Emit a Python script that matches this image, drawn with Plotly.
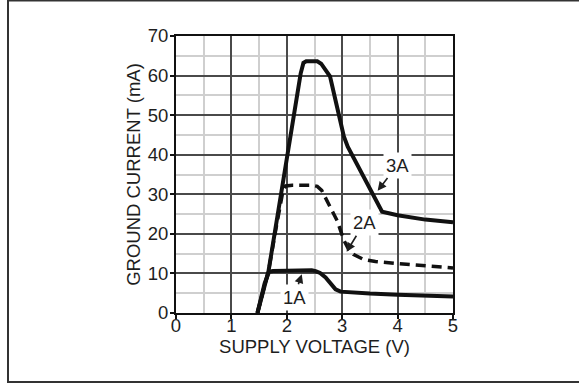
import plotly.graph_objects as go

# Ground current vs. supply voltage for three load currents
v_3a = [1.47, 1.55, 1.60, 1.67, 2.25, 2.30, 2.35, 2.55, 2.62, 2.70, 2.78, 2.90, 3.03, 3.10, 3.72, 4.00, 4.50, 5.00]
i_3a = [0.0, 4.5, 7.5, 10.6, 60.5, 63.2, 63.6, 63.6, 63.0, 61.6, 59.8, 52.5, 44.6, 42.0, 25.6, 24.7, 23.6, 22.9]

v_2a = [1.47, 1.55, 1.60, 1.67, 1.80, 1.88, 1.93, 1.98, 2.10, 2.45, 2.55, 2.63, 2.70, 2.84, 2.91, 3.03, 3.12, 3.20, 3.39, 3.60, 4.00, 4.50, 5.00]
i_2a = [0.0, 4.5, 7.5, 10.6, 21.0, 27.5, 30.8, 32.1, 32.3, 32.3, 32.0, 31.0, 29.2, 25.2, 23.3, 18.4, 16.0, 14.8, 13.5, 13.0, 12.5, 12.0, 11.4]

v_1a = [1.47, 1.55, 1.60, 1.68, 1.75, 2.00, 2.30, 2.45, 2.52, 2.60, 2.70, 2.80, 2.88, 2.97, 3.20, 3.50, 4.00, 4.50, 5.00]
i_1a = [0.0, 4.5, 7.5, 10.4, 10.6, 10.7, 10.8, 10.8, 10.6, 10.1, 9.0, 7.3, 6.0, 5.4, 5.1, 4.9, 4.6, 4.4, 4.2]

# Curve labels: (text, text position V, text position mA, arrow tip V, arrow tip mA)
labels = [
    ("3A", 4.00, 37.4, 3.64, 30.9),
    ("2A", 3.40, 22.8, 3.08, 15.5),
    ("1A", 2.13, 4.0, 2.27, 9.8),
]

x_ticks = [0, 1, 2, 3, 4, 5]
y_ticks = [0, 10, 20, 30, 40, 50, 60, 70]

FONT = "Liberation Sans, Arial, sans-serif"
INK = "#1e1e1e"
FS = 18.5

fig = go.Figure()
fig.add_trace(go.Scatter(x=v_3a, y=i_3a, mode="lines",
                         line=dict(color="#111", width=4), hoverinfo="skip"))
fig.add_trace(go.Scatter(x=v_2a, y=i_2a, mode="lines",
                         line=dict(color="#111", width=3.5, dash="10px,6px"), hoverinfo="skip"))
fig.add_trace(go.Scatter(x=v_1a, y=i_1a, mode="lines",
                         line=dict(color="#111", width=4), hoverinfo="skip"))

for text, tx, ty, hx, hy in labels:
    fig.add_annotation(x=hx, y=hy, ax=tx, ay=ty, xref="x", yref="y",
                       axref="x", ayref="y", text=text, showarrow=True,
                       arrowhead=2, arrowsize=1.1, arrowwidth=1.6, arrowcolor=INK,
                       bgcolor="white", borderpad=2,
                       font=dict(family=FONT, size=FS, color=INK))

# Outer frame around the figure
fig.add_shape(type="rect", xref="paper", yref="paper",
              x0=(8 - 176) / 277, x1=(600 - 176) / 277,
              y0=(313 - 382) / 277, y1=(313 - 0.5) / 277,
              line=dict(color="#333", width=2), layer="below")

axis_common = dict(
    showline=True, linecolor="#111", linewidth=2, mirror=True,
    ticks="outside", ticklen=4, tickcolor="#111", tickwidth=1.5,
    showgrid=True, gridcolor="#4a4a4a", gridwidth=1.8,
    zeroline=False,
    tickfont=dict(family=FONT, size=FS, color=INK),
)

fig.update_xaxes(range=[0, 5], tickvals=x_ticks, **axis_common,
                 ticklabelstandoff=-9,
                 minor=dict(dtick=0.5, showgrid=True, gridcolor="#cfcfcf", gridwidth=1.8),
                 title=dict(text="SUPPLY VOLTAGE (V)", standoff=2,
                            font=dict(family=FONT, size=FS, color=INK)))
fig.update_yaxes(range=[0, 70], tickvals=y_ticks, **axis_common,
                 ticklabelstandoff=-2,
                 minor=dict(dtick=5, showgrid=True, gridcolor="#cfcfcf", gridwidth=1.8),
                 title=dict(text="GROUND CURRENT (mA)", standoff=2,
                            font=dict(family=FONT, size=FS, color=INK)))

fig.update_layout(
    width=579, height=383,
    margin=dict(l=176, r=126, t=36, b=70),
    paper_bgcolor="white", plot_bgcolor="white",
    showlegend=False,
)

fig.write_html("out.html")
